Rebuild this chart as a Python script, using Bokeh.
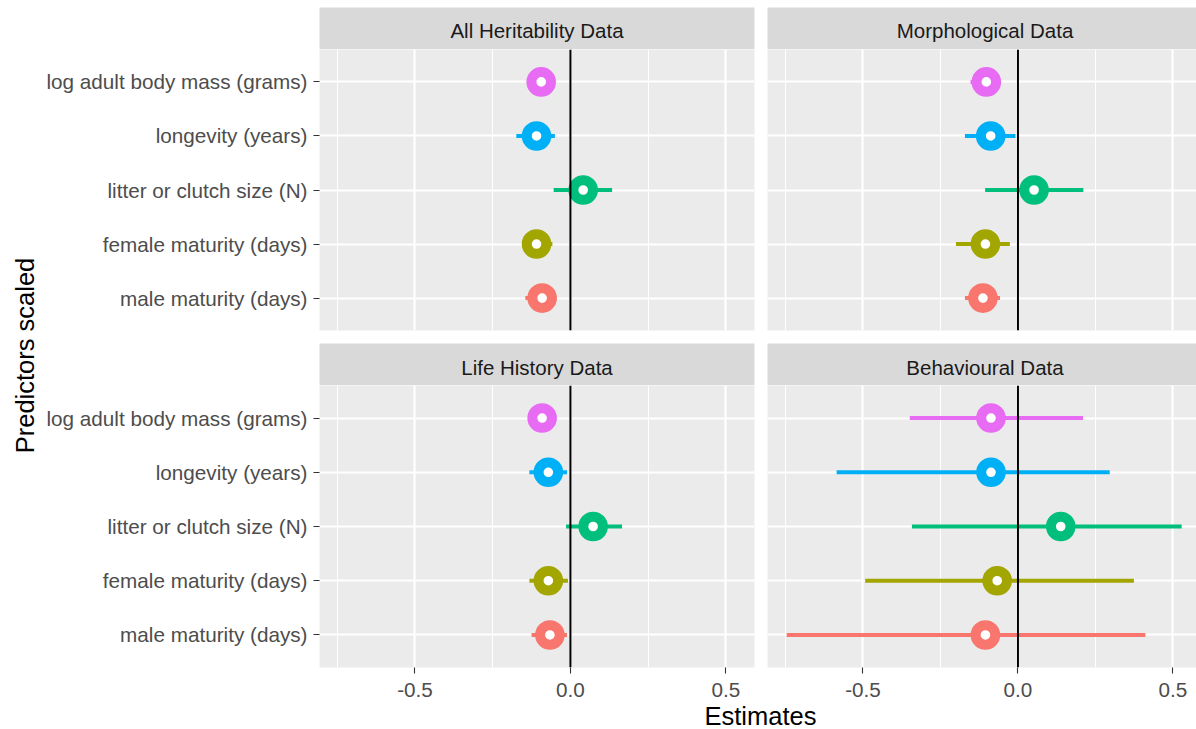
import math
from bokeh.plotting import figure
from bokeh.layouts import row, column
from bokeh.models import Range1d, FixedTicker, NumeralTickFormatter, Label, Span
from bokeh.embed import file_html
from bokeh.resources import INLINE

# ---------------- data ----------------
predictors = ["male maturity (days)", "female maturity (days)",
              "litter or clutch size (N)", "longevity (years)",
              "log adult body mass (grams)"]
colors = ["#F8766D", "#A3A500", "#00BF7D", "#00B0F6", "#E76BF3"]

facet_titles = ["All Heritability Data", "Morphological Data",
                "Life History Data", "Behavioural Data"]

heritability_est = [-0.091, -0.109, 0.041, -0.109, -0.094]
heritability_lo = [-0.145, -0.155, -0.054, -0.174, -0.125]
heritability_hi = [-0.045, -0.058, 0.134, -0.050, -0.065]

morphological_est = [-0.113, -0.105, 0.052, -0.088, -0.102]
morphological_lo = [-0.171, -0.200, -0.106, -0.171, -0.153]
morphological_hi = [-0.058, -0.026, 0.211, -0.008, -0.055]

lifehistory_est = [-0.066, -0.071, 0.073, -0.071, -0.091]
lifehistory_lo = [-0.125, -0.132, -0.014, -0.132, -0.130]
lifehistory_hi = [-0.011, -0.008, 0.166, -0.011, -0.055]

behavioural_est = [-0.105, -0.067, 0.138, -0.087, -0.087]
behavioural_lo = [-0.746, -0.493, -0.342, -0.585, -0.349]
behavioural_hi = [0.411, 0.374, 0.528, 0.296, 0.210]

x_ticks = [-0.5, 0.0, 0.5]
x_minor_ticks = [-0.75, -0.25, 0.25, 0.75]

# ---------------- style ----------------
FONT = "Liberation Sans"
PANEL_BG = "#EBEBEB"
STRIP_BG = "#D9D9D9"
y_pos = list(range(1, len(predictors) + 1))

YT_W = 38
LEFT_W, LEFT_MBL, LEFT_MBR = 722, 281, 6
RIGHT_W, RIGHT_MBL, RIGHT_MBR = 436, 7, 0
LEFT_XR = (-0.807, 0.592)
RIGHT_XR = (-0.808, 0.576)
TOTAL_H = 729
BOTTOM_MBB = 33


def strip(title, left, top):
    w, mbl, mbr = (LEFT_W, LEFT_MBL, LEFT_MBR) if left else (RIGHT_W, RIGHT_MBL, RIGHT_MBR)
    mbt = 7 if top else 0
    s = figure(width=w, height=42 + mbt, x_range=Range1d(0, 1), y_range=Range1d(0, 1),
               output_backend="svg", toolbar_location=None,
               x_axis_location=None, y_axis_location=None,
               min_border_left=mbl, min_border_right=mbr,
               min_border_top=mbt, min_border_bottom=0)
    s.background_fill_color = STRIP_BG
    s.border_fill_color = "white"
    s.outline_line_color = None
    s.grid.visible = False
    s.add_layout(Label(x=0.5 if left else 0.507, y=0.46 if top else 0.43, text=title,
                       text_align="center", text_baseline="middle", text_font=FONT,
                       text_font_size="20.5px", text_color="#1A1A1A"))
    return s


def panel(est, lo, hi, left, bottom):
    w, mbl, mbr = (LEFT_W, LEFT_MBL, LEFT_MBR) if left else (RIGHT_W, RIGHT_MBL, RIGHT_MBR)
    xr = LEFT_XR if left else RIGHT_XR
    mbb = BOTTOM_MBB if bottom else 13
    frame_h = 282 if bottom else 281
    p = figure(width=w, height=frame_h + mbb, x_range=Range1d(*xr), y_range=Range1d(0.4, 5.6),
               output_backend="svg", toolbar_location=None,
               min_border_left=mbl, min_border_right=mbr,
               min_border_top=0, min_border_bottom=mbb)
    p.background_fill_color = PANEL_BG
    p.border_fill_color = "white"
    p.outline_line_color = None

    xt = FixedTicker(ticks=x_ticks, minor_ticks=x_minor_ticks)
    yt = FixedTicker(ticks=y_pos, minor_ticks=[])
    p.xaxis.ticker = xt
    p.yaxis.ticker = yt
    p.xgrid.ticker = xt
    p.ygrid.ticker = yt
    p.xgrid.grid_line_color = "white"
    p.xgrid.grid_line_width = 2.2
    p.xgrid.minor_grid_line_color = "white"
    p.xgrid.minor_grid_line_width = 1.1
    p.ygrid.grid_line_color = "white"
    p.ygrid.grid_line_width = 2.2

    for ax in (p.xaxis[0], p.yaxis[0]):
        ax.axis_line_color = None
        ax.major_tick_in = 0
        ax.major_tick_out = 6
        ax.major_tick_line_color = "#333333"
        ax.major_tick_line_width = 1.1
        ax.minor_tick_in = 0
        ax.minor_tick_out = 0
        ax.major_label_text_font = FONT
        ax.major_label_text_font_size = "20.7px"
        ax.major_label_text_color = "#4D4D4D"
    p.xaxis.major_label_standoff = 9
    p.yaxis.major_label_standoff = 6

    p.xaxis.formatter = NumeralTickFormatter(format="0.0")
    p.yaxis.major_label_overrides = {y: lab for y, lab in zip(y_pos, predictors)}
    p.xaxis.visible = bottom
    p.yaxis.visible = left

    p.segment(x0=lo, y0=y_pos, x1=hi, y1=y_pos, line_color=colors, line_width=4)
    p.add_layout(Span(location=0, dimension="height", line_color="black", line_width=2))
    p.scatter(x=est, y=y_pos, size=19.6, line_width=10, line_color=colors,
              fill_color="white", marker="circle")
    return p


s1 = strip(facet_titles[0], True, True)
s2 = strip(facet_titles[1], False, True)
s3 = strip(facet_titles[2], True, False)
s4 = strip(facet_titles[3], False, False)

p1 = panel(heritability_est, heritability_lo, heritability_hi, True, False)
p2 = panel(morphological_est, morphological_lo, morphological_hi, False, False)
p3 = panel(lifehistory_est, lifehistory_lo, lifehistory_hi, True, True)
p4 = panel(behavioural_est, behavioural_lo, behavioural_hi, False, True)

# axis titles
used_h = (42 + 7) + (281 + 13) + 42 + (282 + BOTTOM_MBB)
xt_h = TOTAL_H - used_h
xt_fig = figure(width=LEFT_W + RIGHT_W, height=xt_h, x_range=Range1d(0, LEFT_W + RIGHT_W),
                y_range=Range1d(0, xt_h), output_backend="svg", toolbar_location=None,
                x_axis_location=None, y_axis_location=None,
                min_border_left=0, min_border_right=0, min_border_top=0, min_border_bottom=0)
xt_fig.outline_line_color = None
xt_fig.grid.visible = False
xt_fig.add_layout(Label(x=760 - YT_W, y=TOTAL_H - 715.5, text="Estimates", text_align="center",
                        text_baseline="middle", text_font=FONT,
                        text_font_size="25.5px", text_color="black"))

yt_fig = figure(width=YT_W, height=TOTAL_H, x_range=Range1d(0, YT_W), y_range=Range1d(0, TOTAL_H),
                output_backend="svg", toolbar_location=None,
                x_axis_location=None, y_axis_location=None,
                min_border_left=0, min_border_right=0, min_border_top=0, min_border_bottom=0)
yt_fig.outline_line_color = None
yt_fig.grid.visible = False
yt_fig.add_layout(Label(x=24, y=TOTAL_H - 355, text="Predictors scaled", angle=math.pi / 2,
                        text_align="center", text_baseline="middle",
                        text_font=FONT, text_font_size="25.5px", text_color="black"))

layout = row(yt_fig, column(row(s1, s2), row(p1, p2), row(s3, s4), row(p3, p4), xt_fig))

open("out.html", "w").write(file_html(layout, INLINE))
